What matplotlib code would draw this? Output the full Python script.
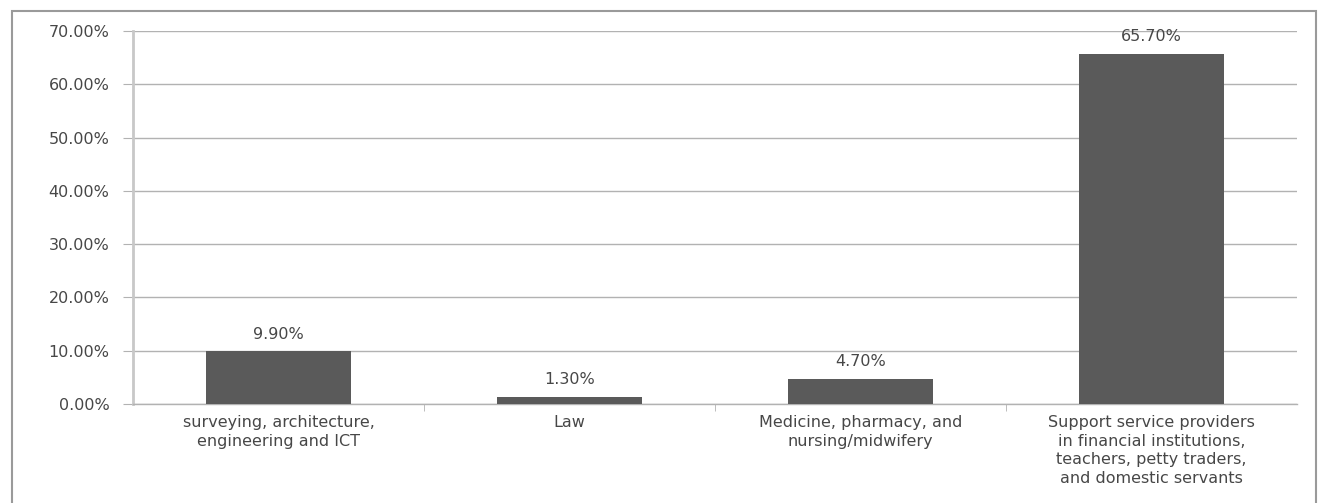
import matplotlib.pyplot as plt
from matplotlib.patches import Rectangle
from matplotlib.ticker import FuncFormatter

plt.rcParams['font.family'] = ['DejaVu Sans']

# Share of respondents by occupational group
categories = [
    "surveying, architecture,\nengineering and ICT",
    "Law",
    "Medicine, pharmacy, and\nnursing/midwifery",
    "Support service providers\nin financial institutions,\nteachers, petty traders,\nand domestic servants",
]
shares = [9.9, 1.3, 4.7, 65.7]
y_ticks = [0, 10, 20, 30, 40, 50, 60, 70]

text_color = "#474747"
bar_color = "#5a5a5a"
grid_color = "#b2b2b2"
fs = 11.5

fig = plt.figure(figsize=(13.28, 5.03), dpi=100)
ax = fig.add_axes([133 / 1328, 1 - 404 / 503, (1297 - 133) / 1328, (404 - 31) / 503])

# chart-area border
fig.patches.append(Rectangle((12 / 1328, -0.01), (1316 - 12) / 1328, 1 - 11 / 503 + 0.01,
                             transform=fig.transFigure, fill=False,
                             edgecolor="#9a9a9a", linewidth=1.5))

x = list(range(len(categories)))
bars = ax.bar(x, shares, width=0.5, color=bar_color, zorder=3)

for xi, v in zip(x, shares):
    ax.annotate(f"{v:.2f}%", (xi, v), xytext=(0, 7), textcoords="offset points",
                ha="center", va="bottom", fontsize=fs, color=text_color)

ax.set_xlim(-0.5, len(categories) - 0.5)
ax.set_ylim(0, 70)
ax.set_yticks(y_ticks)
ax.yaxis.set_major_formatter(FuncFormatter(lambda v, p: f"{v:.2f}%"))
ax.grid(axis="y", color=grid_color, linewidth=1, zorder=0)

ax.set_xticks(x)
ax.set_xticklabels(categories, fontsize=fs, color=text_color, linespacing=1.3)
ax.set_xticks([i + 0.5 for i in range(len(categories) - 1)], minor=True)
ax.tick_params(axis="x", which="major", length=0, pad=8)
ax.tick_params(axis="x", which="minor", length=5, color=grid_color, direction="out")
ax.tick_params(axis="y", length=7, color=grid_color, labelsize=fs, labelcolor=text_color, pad=10)

for side in ("top", "right"):
    ax.spines[side].set_visible(False)
ax.spines["left"].set_color("#c8c8c8")
ax.spines["left"].set_linewidth(2)
ax.spines["bottom"].set_color(grid_color)
ax.spines["bottom"].set_linewidth(1)

fig.savefig("out.png", dpi=100)
